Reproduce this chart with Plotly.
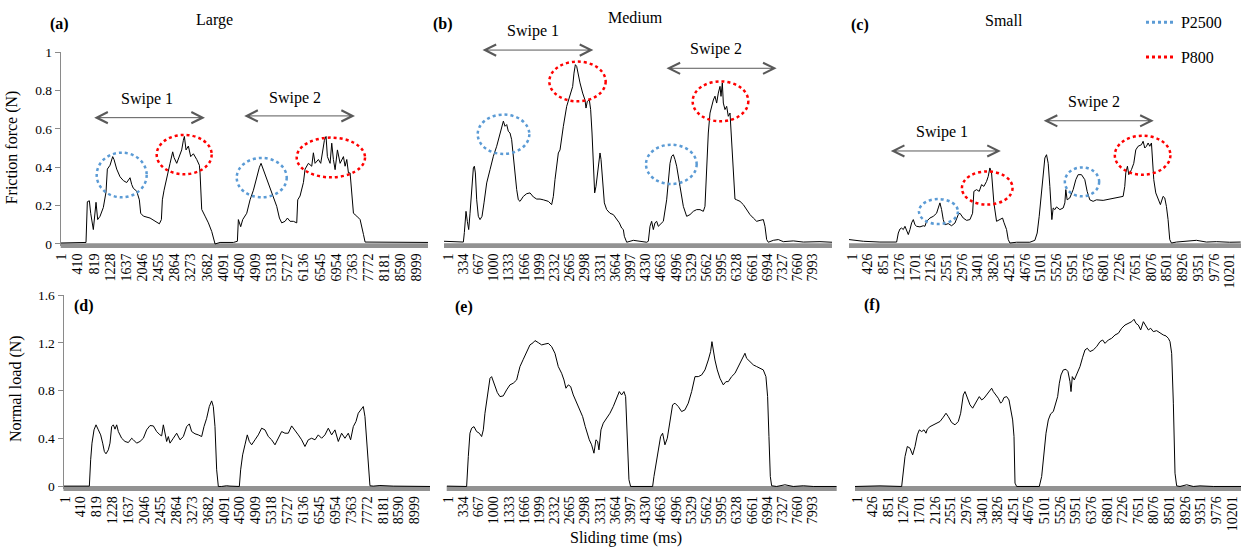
import plotly.graph_objects as go

FONT = "Liberation Serif, DejaVu Serif, Times New Roman, serif"

# ---------------- tick labels (category index of the sampled signal) ----------------
ticks_large = [1, 410, 819, 1228, 1637, 2046, 2455, 2864, 3273, 3682, 4091, 4500,
               4909, 5318, 5727, 6136, 6545, 6954, 7363, 7772, 8181, 8590, 8999]
ticks_medium = [1, 334, 667, 1000, 1333, 1666, 1999, 2332, 2665, 2998, 3331, 3664, 3997,
                4330, 4663, 4996, 5329, 5662, 5995, 6328, 6661, 6994, 7327, 7660, 7993]
ticks_small = [1, 426, 851, 1276, 1701, 2126, 2551, 2976, 3401, 3826, 4251, 4676, 5101,
               5526, 5951, 6376, 6801, 7226, 7651, 8076, 8501, 8926, 9351, 9776, 10201]
ticks_friction = [0, 0.2, 0.4, 0.6, 0.8, 1]
ticks_friction_text = ["0", "0.2", "0.4", "0.6", "0.8", "1"]
ticks_load = [0, 0.4, 0.8, 1.2, 1.6]
ticks_load_text = ["0", "0.4", "0.8", "1.2", "1.6"]

# ---------------- (a) Large: friction force ----------------
large_fric_t = [-20, 617, 651, 702, 736, 803, 871, 913, 972, 1056, 1124, 1158, 1226, 1293, 1327,
                1395, 1479, 1564, 1648, 1733, 1775, 1817, 1902, 1969, 2003, 2071, 2240, 2367, 2476,
                2527, 2552, 2595, 2662, 2747, 2814, 2848, 2916, 2983, 3042, 3084, 3110, 3152, 3211,
                3270, 3338, 3423, 3490, 3507, 3549, 3634, 3718, 3803, 3862, 3887, 4014, 4352, 4453,
                4478, 4537, 4588, 4690, 4774, 4859, 4943, 5011, 5053, 5112, 5197, 5281, 5366, 5450,
                5518, 5577, 5661, 5721, 5788, 5872, 5957, 5982, 6041, 6126, 6168, 6252, 6337, 6379,
                6421, 6506, 6565, 6616, 6658, 6700, 6734, 6802, 6844, 6886, 6929, 6988, 7056, 7140,
                7182, 7225, 7267, 7309, 7352, 7394, 7478, 7563, 7647, 7689, 9283]
large_fric_f = [0.005, 0.008, 0.22, 0.225, 0.16, 0.075, 0.217, 0.127, 0.144, 0.19, 0.27, 0.39, 0.41,
                0.455, 0.44, 0.39, 0.35, 0.33, 0.32, 0.345, 0.31, 0.29, 0.275, 0.23, 0.16, 0.145,
                0.135, 0.12, 0.105, 0.127, 0.23, 0.28, 0.335, 0.42, 0.48, 0.45, 0.42, 0.455, 0.49,
                0.54, 0.56, 0.49, 0.51, 0.455, 0.47, 0.44, 0.41, 0.37, 0.18, 0.145, 0.11, 0.065,
                0.014, 0.0, 0.008, 0.008, 0.014, 0.127, 0.09, 0.127, 0.16, 0.23, 0.28, 0.35, 0.40,
                0.42, 0.387, 0.335, 0.29, 0.25, 0.196, 0.135, 0.11, 0.118, 0.135, 0.118, 0.118, 0.11,
                0.23, 0.25, 0.32, 0.39, 0.42, 0.405, 0.475, 0.42, 0.44, 0.42, 0.49, 0.54, 0.56,
                0.455, 0.42, 0.525, 0.44, 0.387, 0.49, 0.42, 0.455, 0.405, 0.44, 0.37, 0.37, 0.265,
                0.16, 0.145, 0.127, 0.05, 0.01, 0.008]

# ---------------- (b) Medium: friction force ----------------
medium_fric_t = [-87, 337, 359, 373, 395, 424, 454, 483, 519, 556, 578, 600, 629, 665, 702, 746, 789,
                 848, 921, 994, 1067, 1140, 1176, 1213, 1249, 1286, 1322, 1359, 1395, 1432, 1468, 1505,
                 1541, 1578, 1651, 1724, 1797, 1870, 1943, 2016, 2089, 2198, 2271, 2308, 2344, 2381,
                 2417, 2454, 2490, 2527, 2600, 2673, 2731, 2760, 2790, 2819, 2855, 2892, 2950, 3001,
                 3023, 3052, 3096, 3125, 3155, 3184, 3213, 3242, 3293, 3330, 3352, 3388, 3425, 3476,
                 3549, 3622, 3695, 3753, 3804, 3841, 3863, 3899, 3914, 4060, 4206, 4352, 4388, 4425,
                 4461, 4498, 4534, 4571, 4607, 4644, 4717, 4790, 4826, 4863, 4899, 4936, 4972, 5009,
                 5082, 5155, 5228, 5301, 5374, 5447, 5520, 5593, 5629, 5666, 5702, 5739, 5775, 5812,
                 5848, 5885, 5921, 5958, 5980, 6009, 6031, 6067, 6104, 6140, 6177, 6213, 6250, 6286,
                 6323, 6396, 6469, 6542, 6615, 6688, 6761, 6834, 6907, 6943, 6980, 7016, 7126, 7235,
                 7345, 7564, 7783, 8148, 8411]
medium_fric_f = [0.014, 0.01, 0.06, 0.127, 0.17, 0.118, 0.075, 0.16, 0.30, 0.396, 0.405, 0.37, 0.23,
                 0.144, 0.127, 0.144, 0.214, 0.318, 0.387, 0.457, 0.509, 0.578, 0.62, 0.64, 0.613,
                 0.622, 0.587, 0.578, 0.543, 0.457, 0.352, 0.283, 0.23, 0.222, 0.248, 0.262, 0.266,
                 0.245, 0.234, 0.234, 0.23, 0.222, 0.205, 0.248, 0.335, 0.405, 0.474, 0.49, 0.56,
                 0.613, 0.717, 0.77, 0.82, 0.89, 0.934, 0.925, 0.873, 0.839, 0.786, 0.75, 0.708,
                 0.743, 0.75, 0.70, 0.578, 0.37, 0.266, 0.30, 0.42, 0.474, 0.44, 0.318, 0.214, 0.179,
                 0.16, 0.153, 0.127, 0.11, 0.083, 0.075, 0.04, 0.014, 0.009, 0.019, 0.014, 0.009,
                 0.014, 0.092, 0.118, 0.075, 0.11, 0.118, 0.092, 0.101, 0.118, 0.23, 0.335, 0.42,
                 0.457, 0.465, 0.44, 0.405, 0.30, 0.196, 0.144, 0.153, 0.17, 0.179, 0.179, 0.17,
                 0.196, 0.405, 0.578, 0.682, 0.717, 0.75, 0.77, 0.734, 0.786, 0.821, 0.769, 0.839,
                 0.734, 0.70, 0.717, 0.665, 0.682, 0.543, 0.352, 0.234, 0.23, 0.222, 0.205, 0.179,
                 0.153, 0.135, 0.118, 0.123, 0.127, 0.092, 0.023, 0.009, 0.019, 0.023, 0.012, 0.016,
                 0.01, 0.012, 0.009]

# ---------------- (c) Small: friction force ----------------
small_fric_t = [-80, 307, 756, 1206, 1251, 1296, 1341, 1386, 1431, 1476, 1521, 1566, 1611, 1656,
                1701, 1746, 1836, 1926, 1970, 2015, 2105, 2195, 2285, 2330, 2375, 2420, 2465, 2510,
                2600, 2690, 2780, 2870, 2915, 3005, 3095, 3185, 3257, 3292, 3364, 3436, 3499, 3562,
                3634, 3679, 3724, 3769, 3796, 3832, 3904, 3994, 4066, 4102, 4174, 4219, 4264, 4444,
                4803, 4938, 5001, 5055, 5118, 5163, 5208, 5253, 5298, 5343, 5370, 5397, 5433, 5478,
                5523, 5613, 5703, 5748, 5774, 5810, 5882, 5972, 6044, 6107, 6197, 6287, 6350, 6422,
                6512, 6602, 6782, 6962, 7141, 7321, 7366, 7393, 7438, 7474, 7546, 7609, 7663, 7726,
                7816, 7861, 7906, 7951, 7996, 8041, 8086, 8113, 8149, 8203, 8293, 8328, 8400, 8445,
                8490, 8535, 8580, 8625, 8760, 8940, 9300, 9570, 9839, 10199, 10496]
small_fric_f = [0.023, 0.014, 0.01, 0.01, 0.057, 0.078, 0.083, 0.075, 0.092, 0.066, 0.049, 0.075,
                0.11, 0.127, 0.10, 0.092, 0.089, 0.095, 0.092, 0.118, 0.135, 0.144, 0.16, 0.1875,
                0.214, 0.179, 0.127, 0.10, 0.106, 0.095, 0.109, 0.153, 0.16, 0.135, 0.123, 0.127,
                0.16, 0.274, 0.283, 0.274, 0.309, 0.30, 0.326, 0.352, 0.396, 0.37, 0.30, 0.214,
                0.118, 0.127, 0.135, 0.113, 0.075, 0.023, 0.005, 0.009, 0.009, 0.019, 0.057, 0.144,
                0.283, 0.387, 0.448, 0.465, 0.42, 0.30, 0.179, 0.127, 0.1875, 0.179, 0.193, 0.179,
                0.1875, 0.214, 0.283, 0.23, 0.24, 0.283, 0.335, 0.361, 0.361, 0.335, 0.274, 0.23,
                0.222, 0.23, 0.227, 0.234, 0.24, 0.248, 0.30, 0.37, 0.405, 0.361, 0.387, 0.42, 0.49,
                0.509, 0.517, 0.535, 0.50, 0.509, 0.526, 0.509, 0.526, 0.44, 0.335, 0.266, 0.222,
                0.205, 0.248, 0.24, 0.196, 0.127, 0.023, 0.005, 0.01, 0.014, 0.019, 0.01, 0.012,
                0.009, 0.01]

# ---------------- (d) Large: normal load ----------------
large_load_t = [-38, 541, 627, 661, 695, 747, 798, 858, 918, 970, 1013, 1055, 1115, 1158, 1201, 1244,
                1287, 1330, 1373, 1458, 1544, 1630, 1716, 1759, 1844, 1930, 2016, 2101, 2187, 2273,
                2358, 2444, 2487, 2530, 2573, 2616, 2659, 2702, 2787, 2873, 2959, 3045, 3130, 3199,
                3259, 3345, 3430, 3516, 3576, 3645, 3713, 3773, 3816, 3859, 3902, 3945, 4030, 4159,
                4245, 4485, 4519, 4570, 4630, 4690, 4742, 4802, 4888, 4973, 5059, 5145, 5231, 5316,
                5402, 5488, 5574, 5659, 5745, 5831, 5916, 6002, 6088, 6173, 6259, 6345, 6431, 6516,
                6602, 6688, 6774, 6859, 6945, 7031, 7116, 7202, 7288, 7348, 7417, 7486, 7545, 7631,
                7674, 7717, 7760, 7803, 7845, 7931, 8102, 8445, 8788, 9131, 9390]
large_load_f = [0.003, 0.0, 0.003, 0.223, 0.362, 0.473, 0.515, 0.473, 0.431, 0.362, 0.292, 0.273,
                0.306, 0.362, 0.50, 0.515, 0.479, 0.515, 0.459, 0.403, 0.376, 0.367, 0.403, 0.39,
                0.362, 0.376, 0.403, 0.473, 0.509, 0.506, 0.459, 0.431, 0.423, 0.515, 0.445, 0.376,
                0.417, 0.362, 0.403, 0.445, 0.39, 0.417, 0.50, 0.523, 0.459, 0.44, 0.431, 0.417,
                0.50, 0.57, 0.668, 0.715, 0.668, 0.50, 0.139, 0.0, 0.0, 0.006, 0.003, 0.0, 0.139,
                0.264, 0.348, 0.431, 0.376, 0.348, 0.39, 0.431, 0.487, 0.473, 0.417, 0.39, 0.348,
                0.403, 0.459, 0.445, 0.445, 0.506, 0.473, 0.431, 0.39, 0.334, 0.39, 0.403, 0.39,
                0.431, 0.403, 0.431, 0.487, 0.431, 0.473, 0.376, 0.445, 0.403, 0.445, 0.39, 0.50,
                0.543, 0.612, 0.654, 0.668, 0.584, 0.39, 0.139, 0.006, 0.003, 0.008, 0.003, 0.003,
                0.0, 0.0]

# ---------------- (e) Medium: normal load ----------------
medium_load_t = [-34, 403, 440, 476, 513, 564, 622, 681, 732, 769, 805, 842, 878, 915, 951, 988,
                 1024, 1076, 1134, 1207, 1280, 1353, 1426, 1500, 1536, 1573, 1646, 1719, 1792, 1865,
                 1902, 1975, 2048, 2121, 2194, 2267, 2340, 2413, 2486, 2538, 2581, 2633, 2684, 2742,
                 2801, 2874, 2947, 3005, 3049, 3093, 3144, 3195, 3239, 3276, 3305, 3349, 3400, 3473,
                 3546, 3619, 3692, 3751, 3802, 3853, 3890, 3926, 3963, 3999, 4094, 4277, 4423, 4482,
                 4511, 4555, 4606, 4657, 4701, 4752, 4804, 4862, 4920, 4972, 5045, 5118, 5191, 5264,
                 5338, 5411, 5484, 5557, 5630, 5703, 5754, 5783, 5812, 5849, 5900, 5959, 6032, 6090,
                 6141, 6214, 6288, 6361, 6434, 6507, 6543, 6616, 6690, 6763, 6836, 6909, 6967, 7004,
                 7033, 7063, 7092, 7201, 7384, 7567, 7786, 8005, 8517]
medium_load_f = [0.003, 0.0, 0.25, 0.445, 0.487, 0.50, 0.459, 0.445, 0.417, 0.473, 0.612, 0.723,
                 0.835, 0.904, 0.918, 0.876, 0.835, 0.785, 0.751, 0.757, 0.807, 0.849, 0.863, 0.89,
                 0.946, 1.002, 1.063, 1.127, 1.183, 1.202, 1.219, 1.202, 1.183, 1.19, 1.196, 1.169,
                 1.113, 1.002, 0.946, 0.89, 0.821, 0.849, 0.835, 0.765, 0.71, 0.64, 0.584, 0.50,
                 0.445, 0.39, 0.348, 0.278, 0.39, 0.376, 0.306, 0.473, 0.529, 0.57, 0.612, 0.668,
                 0.737, 0.793, 0.765, 0.793, 0.751, 0.362, 0.056, 0.0, 0.0, 0.006, 0.0, 0.0, 0.083,
                 0.195, 0.292, 0.417, 0.445, 0.348, 0.403, 0.529, 0.682, 0.696, 0.668, 0.626, 0.64,
                 0.696, 0.793, 0.918, 0.918, 0.932, 0.974, 1.057, 1.127, 1.21, 1.141, 1.057, 0.974,
                 0.904, 0.849, 0.876, 0.876, 0.918, 0.946, 1.002, 1.071, 1.113, 1.071, 1.043, 1.016,
                 1.002, 0.988, 0.974, 0.918, 0.751, 0.417, 0.083, 0.006, 0.0, 0.014, 0.0, 0.006,
                 0.0, 0.0]

# ---------------- (f) Small: normal load ----------------
small_load_t = [-53, 627, 1216, 1261, 1307, 1370, 1443, 1515, 1579, 1642, 1697, 1760, 1823, 1878,
                1914, 1987, 2077, 2168, 2259, 2349, 2422, 2485, 2576, 2667, 2757, 2821, 2893, 2939,
                3002, 3075, 3147, 3211, 3274, 3328, 3392, 3455, 3528, 3591, 3664, 3709, 3773, 3845,
                3909, 3954, 3999, 4072, 4135, 4181, 4235, 4272, 4299, 4344, 4525, 4661, 4797, 4960,
                5024, 5087, 5142, 5205, 5269, 5341, 5414, 5459, 5505, 5550, 5613, 5686, 5740, 5794,
                5822, 5858, 5912, 5976, 6067, 6139, 6203, 6266, 6338, 6429, 6520, 6610, 6683, 6747,
                6837, 6928, 7019, 7110, 7200, 7291, 7382, 7472, 7536, 7590, 7653, 7717, 7790, 7862,
                7926, 7989, 8061, 8152, 8243, 8333, 8406, 8470, 8515, 8560, 8606, 8651, 8696, 8787,
                8968, 9149, 9331, 9693, 10446]
small_load_f = [0.0, 0.005, 0.0, 0.139, 0.25, 0.334, 0.32, 0.264, 0.334, 0.431, 0.473, 0.459, 0.473,
                0.445, 0.479, 0.50, 0.515, 0.529, 0.543, 0.579, 0.612, 0.584, 0.534, 0.515, 0.543,
                0.612, 0.765, 0.793, 0.737, 0.682, 0.654, 0.696, 0.723, 0.751, 0.723, 0.737, 0.765,
                0.793, 0.821, 0.793, 0.765, 0.737, 0.696, 0.71, 0.743, 0.751, 0.723, 0.64, 0.556,
                0.417, 0.028, 0.0, 0.0, 0.005, 0.0, 0.0, 0.083, 0.25, 0.445, 0.556, 0.607, 0.626,
                0.696, 0.751, 0.863, 0.932, 0.974, 0.979, 0.96, 0.876, 0.793, 0.918, 0.89, 0.932,
                1.002, 1.08, 1.141, 1.155, 1.127, 1.141, 1.169, 1.21, 1.224, 1.196, 1.224, 1.238,
                1.266, 1.28, 1.322, 1.349, 1.363, 1.377, 1.397, 1.363, 1.349, 1.308, 1.377, 1.336,
                1.308, 1.322, 1.294, 1.302, 1.28, 1.266, 1.258, 1.238, 1.21, 1.113, 0.696, 0.111,
                0.005, 0.0, 0.014, 0.0, 0.005, 0.0, 0.0]

# ---------------- highlighted regions (x0, x1, y0, y1) per panel ----------------
P2500_COLOR = "#5B9BD5"
P800_COLOR = "#FF0000"
regions = {
    "1": [(888, 2155, 0.243, 0.4755, P2500_COLOR), (2408, 3802, 0.363, 0.568, P800_COLOR),
          (4436, 5703, 0.243, 0.448, P2500_COLOR), (5956, 7687, 0.347, 0.554, P800_COLOR)],
    "2": [(651, 1782, 0.469, 0.674, P2500_COLOR), (2220, 3454, 0.743, 0.95, P800_COLOR),
          (4337, 5447, 0.3125, 0.517, P2500_COLOR), (5359, 6578, 0.639, 0.847, P800_COLOR)],
    "3": [(1809, 2861, 0.104, 0.234, P2500_COLOR), (2969, 4336, 0.205, 0.378, P800_COLOR),
          (5748, 6674, 0.248, 0.399, P2500_COLOR), (7097, 8598, 0.361, 0.564, P800_COLOR)],
}

# swipe spans: (label, start, end, arrow height, label x, label height), heights in y-domain fraction
swipes = {
    "1": [("Swipe 1", 787, 3632, 0.661, 2155, 0.756), ("Swipe 2", 4588, 7433, 0.670, 5913, 0.764)],
    "2": [("Swipe 1", 724, 3184, 1.010, 1870, 1.108), ("Swipe 2", 4753, 7199, 0.916, 5870, 1.014)],
    "3": [("Swipe 1", 1008, 4021, 0.489, 2438, 0.589), ("Swipe 2", 5136, 8149, 0.645, 6530, 0.743)],
}

W, H = 1241, 550

panels = [
    ("1", large_fric_t, large_fric_f, ticks_large, [-24, 9283], (60.7, 428), "top"),
    ("2", medium_fric_t, medium_fric_f, ticks_medium, [-87, 8411], (444, 832), "top"),
    ("3", small_fric_t, small_fric_f, ticks_small, [-80, 10504], (849, 1241), "top"),
    ("4", large_load_t, large_load_f, ticks_large, [-38, 9390], (63.5, 430), "bottom"),
    ("5", medium_load_t, medium_load_f, ticks_medium, [-34, 8519], (446.7, 836.7), "bottom"),
    ("6", small_load_t, small_load_f, ticks_small, [-53, 10446], (855, 1241), "bottom"),
]

ROW_DOMAIN = {"top": (52, 245.7), "bottom": (295, 488.5)}
ROW_RANGE = {"top": [-0.009, 1], "bottom": [-0.017, 1.6]}
BAR_HALF_PX = 2.4

fig = go.Figure()
layout = {}
shapes = []
annotations = []

for pid, t, f, tv, xr, (px0, px1), row in panels:
    sfx = "" if pid == "1" else pid
    fig.add_trace(go.Scatter(
        x=t, y=f, mode="lines", xaxis="x" + sfx, yaxis="y" + sfx,
        line=dict(color="black", width=1), showlegend=False, hoverinfo="skip",
    ))
    top_px, bot_px = ROW_DOMAIN[row]
    layout["xaxis" + sfx] = dict(
        domain=[px0 / W, px1 / W], range=xr, anchor="y" + sfx,
        tickmode="array", tickvals=tv, ticktext=[str(v) for v in tv],
        tickangle=-90, ticks="", showgrid=False, zeroline=False, showline=False,
        ticklabelstandoff=4, automargin=False,
        tickfont=dict(family=FONT, size=14, color="black"),
    )
    yax = dict(
        domain=[1 - bot_px / H, 1 - top_px / H], range=ROW_RANGE[row],
        anchor="x" + sfx, showgrid=False, zeroline=False, automargin=False,
    )
    if pid in ("1", "4"):
        vals, txt = (ticks_friction, ticks_friction_text) if pid == "1" else (ticks_load, ticks_load_text)
        yax.update(showline=True, linewidth=1, linecolor="#8a8a8a",
                   ticks="outside", ticklen=5, tickcolor="#8a8a8a",
                   tickmode="array", tickvals=vals, ticktext=txt,
                   tickfont=dict(family=FONT, size=13.5, color="black"))
    else:
        yax.update(showline=False, showticklabels=False, ticks="")
    layout["yaxis" + sfx] = yax

    # thick grey horizontal axis band along the bottom of each panel
    half = BAR_HALF_PX / (bot_px - top_px)
    shapes.append(dict(type="rect", xref="x" + sfx + " domain", yref="y" + sfx + " domain",
                       x0=0, x1=1, y0=-half, y1=half, layer="below",
                       fillcolor="#929292", line=dict(width=0)))

for pid, items in regions.items():
    sfx = "" if pid == "1" else pid
    for x0, x1, y0, y1, col in items:
        shapes.append(dict(type="circle", xref="x" + sfx, yref="y" + sfx,
                           x0=x0, x1=x1, y0=y0, y1=y1,
                           line=dict(color=col, width=2.5, dash="dot")))

for pid, items in swipes.items():
    sfx = "" if pid == "1" else pid
    for label, xs, xe, ya, xl, yl in items:
        annotations.append(dict(
            x=xe, y=ya, ax=xs, ay=ya, xref="x" + sfx, yref="y" + sfx + " domain",
            axref="x" + sfx, ayref="y" + sfx + " domain", text="", showarrow=True,
            arrowside="end+start", arrowhead=5, startarrowhead=5,
            arrowsize=2.2, startarrowsize=2.2, arrowwidth=1, arrowcolor="#595959",
            standoff=0, startstandoff=0,
        ))
        annotations.append(dict(
            x=xl, y=yl, xref="x" + sfx, yref="y" + sfx + " domain", text=label,
            showarrow=False, font=dict(family=FONT, size=16, color="black"),
            xanchor="center", yanchor="middle",
        ))

# panel titles, letters and axis titles
texts = [
    ("<b>(a)</b>", 59, 24, 0), ("Large", 214.5, 20, 0),
    ("<b>(b)</b>", 443, 24, 0), ("Medium", 635.5, 17.3, 0),
    ("<b>(c)</b>", 859.5, 25, 0), ("Small", 1004, 20.7, 0),
    ("<b>(d)</b>", 84, 306, 0), ("<b>(e)</b>", 464, 306.7, 0), ("<b>(f)</b>", 872, 305, 0),
    ("Friction force (N)", 12.3, 147, -90), ("Normal load (N)", 16, 389, -90),
    ("Sliding time (ms)", 625.8, 538, 0),
]
for txt, px, py, ang in texts:
    annotations.append(dict(
        x=px / W, y=1 - py / H, xref="paper", yref="paper", text=txt, showarrow=False,
        textangle=ang, xanchor="center", yanchor="middle",
        font=dict(family=FONT, size=16, color="black"),
    ))

# legend entries for the two paper grades
fig.add_trace(go.Scatter(x=[None], y=[None], mode="lines", name="P2500",
                         line=dict(color=P2500_COLOR, width=3, dash="dot"), legendgroup="g1"))
fig.add_trace(go.Scatter(x=[None], y=[None], mode="lines", name="P800",
                         line=dict(color=P800_COLOR, width=3, dash="dot"), legendgroup="g2"))

fig.update_layout(
    width=W, height=H, autosize=False,
    margin=dict(l=0, r=0, t=0, b=0, pad=0, autoexpand=False),
    paper_bgcolor="white", plot_bgcolor="white",
    shapes=shapes, annotations=annotations,
    legend=dict(x=0.9194, y=0.9905, xanchor="left", yanchor="top",
                font=dict(family=FONT, size=16, color="black"),
                bgcolor="rgba(0,0,0,0)", tracegroupgap=11, traceorder="grouped",
                itemwidth=30),
    showlegend=True,
    **layout,
)

fig.write_html("out.html")
